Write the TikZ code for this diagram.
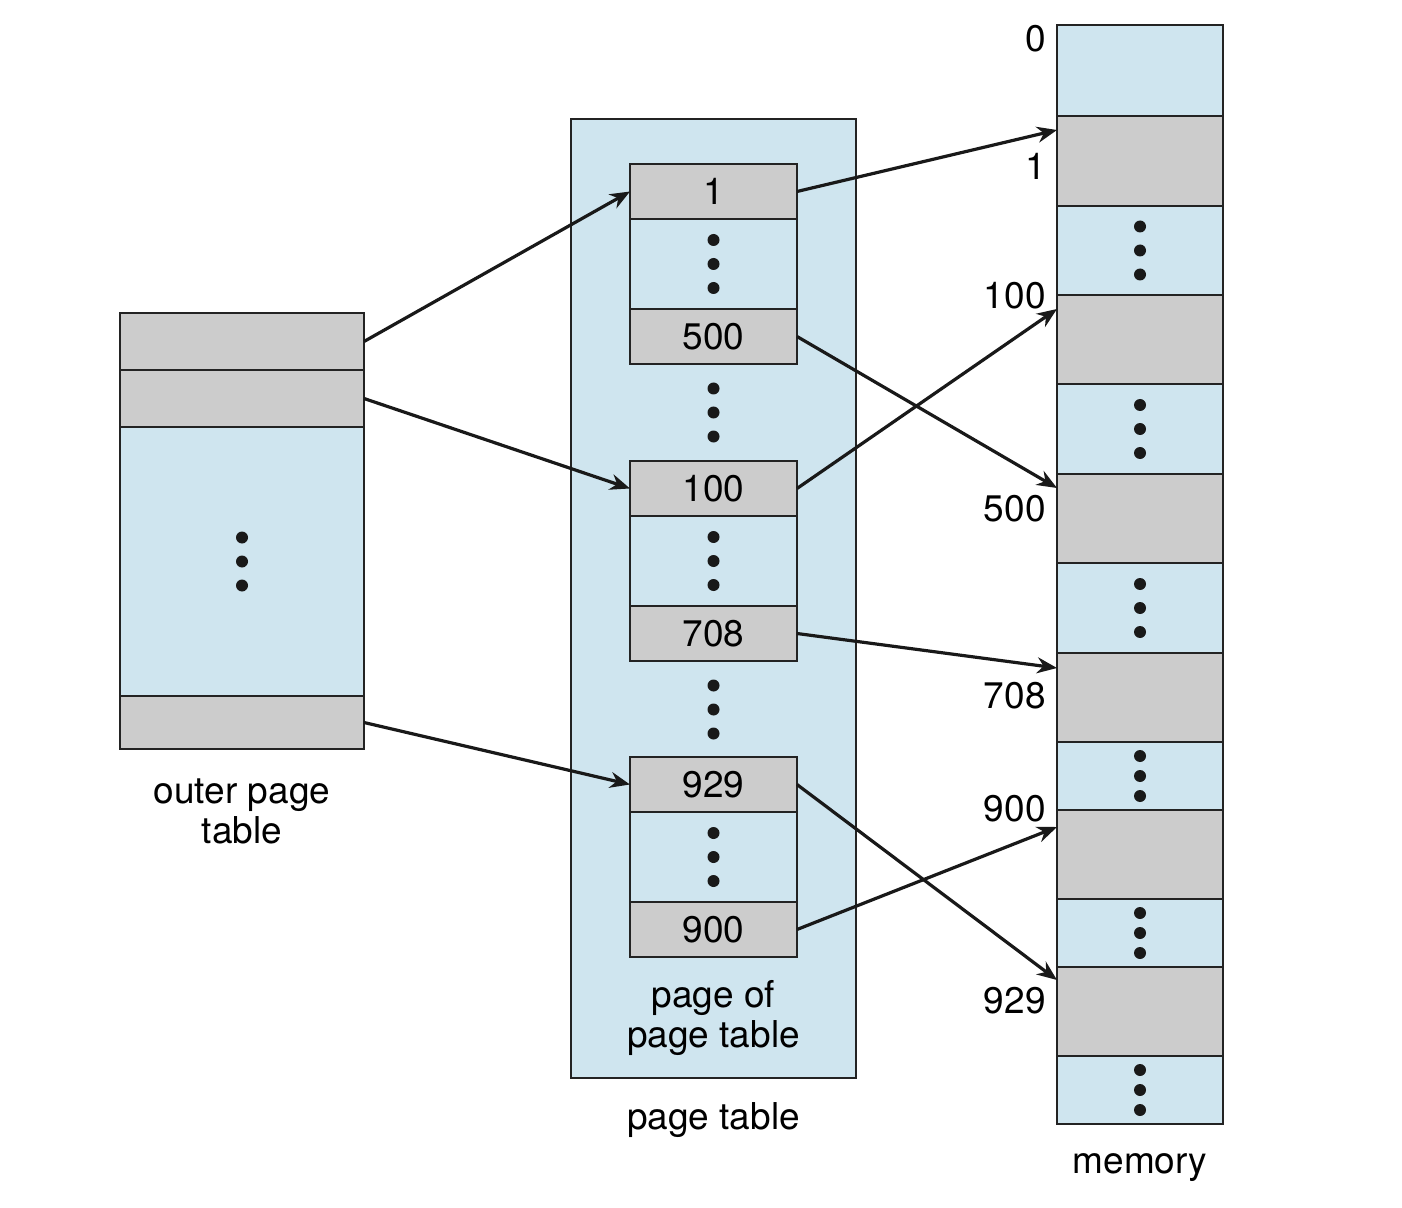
\documentclass[tikz,border=0pt]{standalone}
\usepackage{fontspec}
\setmainfont{TeX Gyre Heros}
\usetikzlibrary{arrows.meta}
\definecolor{cellblue}{RGB}{207,229,239}
\definecolor{cellgray}{RGB}{204,204,204}
\definecolor{edgegray}{RGB}{35,35,35}
\tikzset{
  cell/.style={draw=edgegray, line width=1pt, inner sep=0pt, outer sep=0pt,
    font=\fontsize{18.5}{20}\selectfont},
  grayrow/.style={cell, fill=cellgray},
  bluerow/.style={cell, fill=cellblue},
  outerrow/.style={minimum width=122pt},
  subrow/.style={minimum width=83.5pt},
  memrow/.style={minimum width=83pt},
  link/.style={-{Stealth[length=10pt,width=8pt]}, line width=1.6pt, draw=black!90},
  lbl/.style={font=\fontsize{18.5}{20}\selectfont, align=center, inner sep=0pt}
}
% three dots in the middle of a cell
\newcommand{\dotsin}[2]{%
  \fill[black!90] (#1.center) circle (3pt)
    ([yshift=#2]#1.center) circle (3pt)
    ([yshift=-#2]#1.center) circle (3pt);}
\begin{document}
\begin{tikzpicture}[x=0.5pt, y=-0.5pt]
    \useasboundingbox (0,0) rectangle (1402,1208);

    % Outer page table
    \node[grayrow, outerrow, minimum height=28.5pt] (o1) at (242,341.5) {};
    \node[grayrow, outerrow, minimum height=28.5pt] (o2) at (242,398.5) {};
    \node[bluerow, outerrow, minimum height=134.5pt] (o3) at (242,561.5) {};
    \node[grayrow, outerrow, minimum height=26.5pt] (o4) at (242,722.5) {};
    \dotsin{o3}{12pt}
    \node[lbl] (olbl) at (242,811) {outer page\\table};

    % Page table with its pages
    \node[bluerow, minimum width=142.5pt, minimum height=479.5pt] (pt) at (713.5,598.5) {};
    \node[lbl] (ptlbl) at (713.5,1120) {page table};

    \node[grayrow, subrow, minimum height=27.5pt] (p1) at (713.5,191.5) {1};
    \node[bluerow, subrow, minimum height=45pt] (p1d) at (713.5,264) {};
    \node[grayrow, subrow, minimum height=27.5pt] (p500) at (713.5,336.5) {500};
    \dotsin{p1d}{12pt}
    \coordinate (gap1) at (713.5,412.5);
    \dotsin{gap1}{12pt}

    \node[grayrow, subrow, minimum height=27.5pt] (p100) at (713.5,488.5) {100};
    \node[bluerow, subrow, minimum height=45pt] (p100d) at (713.5,561) {};
    \node[grayrow, subrow, minimum height=27.5pt] (p708) at (713.5,633.5) {708};
    \dotsin{p100d}{12pt}
    \coordinate (gap2) at (713.5,709.5);
    \dotsin{gap2}{12pt}

    \node[grayrow, subrow, minimum height=27.5pt] (p929) at (713.5,784.5) {929};
    \node[bluerow, subrow, minimum height=45pt] (p929d) at (713.5,857) {};
    \node[grayrow, subrow, minimum height=27.5pt] (p900) at (713.5,929.5) {900};
    \dotsin{p929d}{12pt}
    \node[lbl] (poplbl) at (713.5,1018) {page of\\page table};

    % Memory
    \node[bluerow, memrow, minimum height=45.5pt] (m0) at (1140,70.5) {};
    \node[grayrow, memrow, minimum height=45pt] (m1) at (1140,161) {};
    \node[bluerow, memrow, minimum height=44.5pt] (md1) at (1140,250.5) {};
    \node[grayrow, memrow, minimum height=44.5pt] (m100) at (1140,339.5) {};
    \node[bluerow, memrow, minimum height=45pt] (md2) at (1140,429) {};
    \node[grayrow, memrow, minimum height=44.5pt] (m500) at (1140,518.5) {};
    \node[bluerow, memrow, minimum height=45pt] (md3) at (1140,608) {};
    \node[grayrow, memrow, minimum height=44.5pt] (m708) at (1140,697.5) {};
    \node[bluerow, memrow, minimum height=34pt] (md4) at (1140,776) {};
    \node[grayrow, memrow, minimum height=44.5pt] (m900) at (1140,854.5) {};
    \node[bluerow, memrow, minimum height=34pt] (md5) at (1140,933) {};
    \node[grayrow, memrow, minimum height=44.5pt] (m929) at (1140,1011.5) {};
    \node[bluerow, memrow, minimum height=34pt] (md6) at (1140,1090) {};
    \dotsin{md1}{12pt}
    \dotsin{md2}{12pt}
    \dotsin{md3}{12pt}
    \dotsin{md4}{10pt}
    \dotsin{md5}{10pt}
    \dotsin{md6}{10pt}
    \node[lbl] (memlbl) at (1140,1168) {memory};

    % Frame numbers
    \node[lbl, anchor=east] (n0) at (1046,39) {0};
    \node[lbl, anchor=east] (n1) at (1046,166) {1};
    \node[lbl, anchor=east] (n100) at (1046,296) {100};
    \node[lbl, anchor=east] (n500) at (1046,509) {500};
    \node[lbl, anchor=east] (n708) at (1046,696) {708};
    \node[lbl, anchor=east] (n900) at (1046,809) {900};
    \node[lbl, anchor=east] (n929) at (1046,1001) {929};

    % Arrow ends on memory
    \coordinate (in1) at ([yshift=-7pt]m1.north west);
    \coordinate (in100) at ([yshift=-7pt]m100.north west);
    \coordinate (in500) at ([yshift=-7pt]m500.north west);
    \coordinate (in708) at ([yshift=-7.5pt]m708.north west);
    \coordinate (in900) at ([yshift=-8.5pt]m900.north west);
    \coordinate (in929) at ([yshift=-6.5pt]m929.north west);

    % Arrows
    \draw[link] (o1.east) -- (p1.west);
    \draw[link] (o2.east) -- (p100.west);
    \draw[link] (o4.east) -- (p929.west);
    \draw[link] (p1.east) -- (in1);
    \draw[link] (p500.east) -- (in500);
    \draw[link] (p100.east) -- (in100);
    \draw[link] (p708.east) -- (in708);
    \draw[link] (p929.east) -- (in929);
    \draw[link] (p900.east) -- (in900);
\end{tikzpicture}
\end{document}
